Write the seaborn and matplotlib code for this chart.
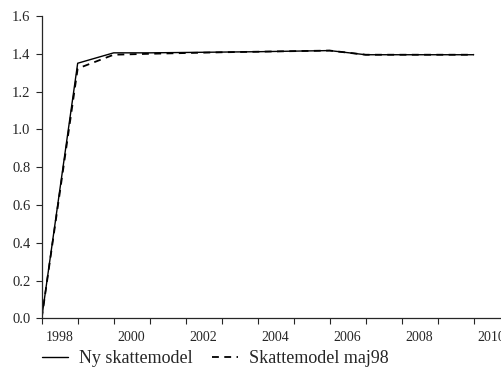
import numpy as np
import pandas as pd
import matplotlib
matplotlib.use("Agg")
import matplotlib.pyplot as plt
import seaborn as sns

# Data
years = [1998, 1999, 2000, 2001, 2002, 2003, 2004, 2005, 2006, 2007, 2008, 2009, 2010]
ny_skattemodel = [0.0, 1.350, 1.405, 1.405, 1.407, 1.409, 1.411, 1.414, 1.417, 1.395, 1.395, 1.395, 1.395]
skattemodel_maj98 = [0.0, 1.322, 1.395, 1.400, 1.404, 1.408, 1.411, 1.414, 1.417, 1.395, 1.395, 1.395, 1.395]
label_years = [1998, 2000, 2002, 2004, 2006, 2008, 2010]
y_ticks = [0.0, 0.2, 0.4, 0.6, 0.8, 1.0, 1.2, 1.4, 1.6]

sns.set_style("ticks")
plt.rcParams['font.family'] = ['Liberation Serif', 'DejaVu Serif']

df = pd.DataFrame({
    "pos": np.array(years) - 0.5,   # points sit on the year boundaries
    "Ny skattemodel": ny_skattemodel,
    "Skattemodel maj98": skattemodel_maj98,
})

fig = plt.figure(figsize=(5.01, 3.67), dpi=100)
ax = fig.add_axes([0.0832, 0.1327, 0.9168, 0.8237])

sns.lineplot(data=df, x="pos", y="Ny skattemodel", ax=ax, color="black",
             linewidth=1.0, label="Ny skattemodel")
sns.lineplot(data=df, x="pos", y="Skattemodel maj98", ax=ax, color="black",
             linewidth=1.3, linestyle=(0, (3.8, 3)), label="Skattemodel maj98")

ax.set_xlim(1997.5, 2010.26)
ax.set_ylim(0, 1.6)
ax.set_yticks(y_ticks)
ax.set_yticklabels([f"{v:.1f}" for v in y_ticks])

# tick marks on year boundaries, labels centred on the years
ax.set_xticks(np.array(years) - 0.5)
ax.set_xticklabels([])
ax.set_xticks(label_years, minor=True)
ax.set_xticklabels([str(y) for y in label_years], minor=True)
ax.tick_params(axis="x", which="major", length=4, width=0.8, direction="out")
ax.tick_params(axis="x", which="minor", length=0, pad=9, labelsize=10)
ax.tick_params(axis="y", length=4, width=0.8, pad=4, labelsize=10.5)

ax.set_xlabel("")
ax.set_ylabel("")
sns.despine(ax=ax)
for s in ["left", "bottom"]:
    ax.spines[s].set_linewidth(0.9)

ax.get_legend().remove()
handles, labels = ax.get_legend_handles_labels()
fig.legend(handles, labels, loc="center left", bbox_to_anchor=(0.083, 0.022),
           ncol=2, frameon=False, fontsize=13, handlelength=1.45,
           handletextpad=0.6, columnspacing=1.1, borderpad=0, borderaxespad=0)

fig.savefig("out.png", dpi=100)
